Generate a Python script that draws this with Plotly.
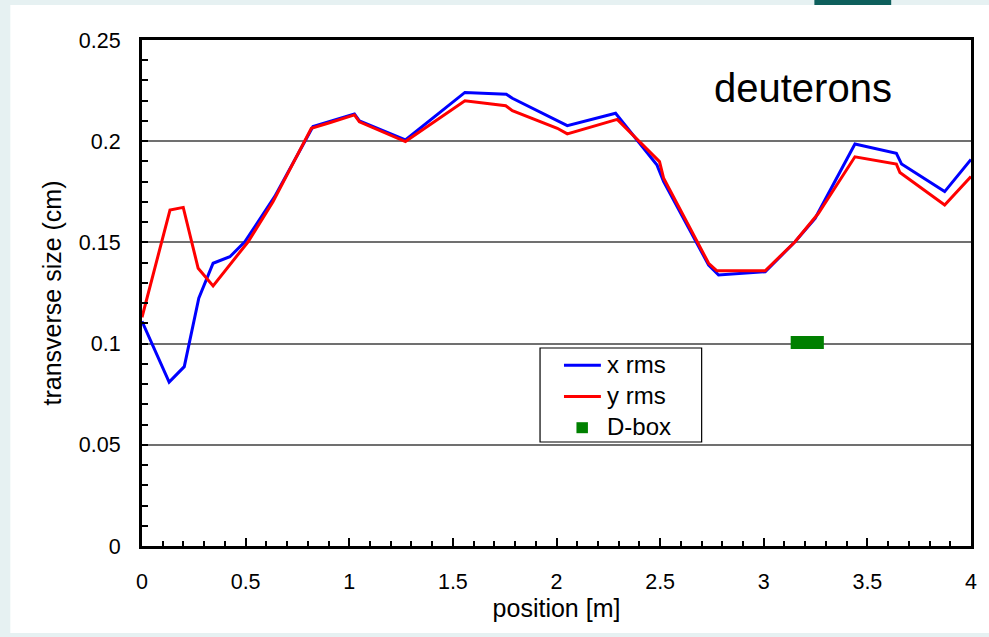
import plotly.graph_objects as go

# ---- data ----
x_blue = [0, 0.131, 0.204, 0.274, 0.343, 0.424, 0.496, 0.640, 0.825, 0.905, 1.025, 1.049,
          1.271, 1.558, 1.619, 1.758, 1.787, 2.052, 2.285, 2.301, 2.485, 2.517, 2.734, 2.782,
          3.007, 3.151, 3.248, 3.440, 3.640, 3.665, 3.873, 4.0]
y_blue = [0.111, 0.081, 0.0886, 0.1224, 0.1397, 0.1429, 0.1503, 0.1726, 0.2072, 0.2096, 0.2134,
          0.210, 0.2006, 0.2241, 0.2238, 0.2232, 0.2212, 0.2077, 0.2138, 0.2118, 0.1882, 0.180,
          0.1388, 0.1339, 0.1355, 0.1503, 0.1619, 0.1986, 0.194, 0.1887, 0.1751, 0.191]

x_red = [0, 0.135, 0.199, 0.271, 0.343, 0.512, 0.632, 0.817, 0.905, 1.025, 1.049, 1.271,
         1.558, 1.755, 1.787, 2.004, 2.052, 2.293, 2.497, 2.517, 2.734, 2.774, 3.007, 3.151,
         3.264, 3.44, 3.64, 3.657, 3.873, 4.0]
y_red = [0.113, 0.166, 0.1673, 0.1372, 0.1285, 0.1503, 0.1701, 0.2064, 0.2091, 0.213, 0.2096,
         0.1998, 0.22, 0.2175, 0.2151, 0.2064, 0.2036, 0.2108, 0.1899, 0.1817, 0.1397, 0.136,
         0.136, 0.1503, 0.1644, 0.1923, 0.1887, 0.1845, 0.1685, 0.1825]

x_dbox = [3.13, 3.29]
y_dbox = [0.1005, 0.1005]

series_names = ["x rms", "y rms", "D-box"]
series_colors = ["#0000ff", "#ff0000", "#008000"]
x_ticks = [0, 0.5, 1, 1.5, 2, 2.5, 3, 3.5, 4]
x_ticklabels = ["0", "0.5", "1", "1.5", "2", "2.5", "3", "3.5", "4"]
y_ticks = [0, 0.05, 0.1, 0.15, 0.2, 0.25]
y_ticklabels = ["0", "0.05", "0.1", "0.15", "0.2", "0.25"]

FONT = "Liberation Sans, Arial, sans-serif"

# plot area in pixels (for paper-coordinate decoration/legend placement)
L, R, T, B = 142, 973, 40, 546
def px(x):
    return (x - L) / (R - L)
def py(y):
    return (B - y) / (B - T)

fig = go.Figure()
fig.add_trace(go.Scatter(x=x_blue, y=y_blue, mode="lines", name=series_names[0], showlegend=False,
                         line=dict(color=series_colors[0], width=3)))
fig.add_trace(go.Scatter(x=x_red, y=y_red, mode="lines", name=series_names[1], showlegend=False,
                         line=dict(color=series_colors[1], width=3)))
fig.add_trace(go.Scatter(x=x_dbox, y=y_dbox, mode="lines", name=series_names[2], showlegend=False,
                         line=dict(color=series_colors[2], width=13)))

fig.add_annotation(x=3.19, y=0.2265, xref="x", yref="y", text="deuterons",
                   showarrow=False, font=dict(family=FONT, size=40, color="black"))

# page decoration
fig.add_shape(type="rect", xref="paper", yref="paper", x0=px(10), x1=px(995), y0=py(633), y1=py(5),
              fillcolor="white", line=dict(width=0), layer="below")
fig.add_shape(type="rect", xref="paper", yref="paper", x0=px(816), x1=px(893),
              y0=py(5), y1=py(-5), fillcolor="#0e5f5c", line=dict(width=0), layer="below")

# legend (drawn manually for compact Excel-like spacing)
LEG_FS = 24
row_gap = 1.3 * LEG_FS
mid = 395.5
row_y = [mid - row_gap, mid, mid + row_gap]
fig.add_shape(type="rect", xref="paper", yref="paper", x0=px(541), x1=px(703), y0=py(442), y1=py(348),
              fillcolor="white", line=dict(color="black", width=1.2), layer="above")
for i in range(2):
    fig.add_shape(type="line", xref="paper", yref="paper", x0=px(565), x1=px(602),
                  y0=py(row_y[i] + 1), y1=py(row_y[i] + 1), line=dict(color=series_colors[i], width=3),
                  layer="above")
fig.add_shape(type="rect", xref="paper", yref="paper", x0=px(577.5), x1=px(589),
              y0=py(row_y[2] + 6.5), y1=py(row_y[2] - 4.5), fillcolor=series_colors[2],
              line=dict(width=0), layer="above")
fig.add_annotation(x=px(606), y=py(mid), xref="paper", yref="paper", text="<br>".join(series_names),
                   showarrow=False, xanchor="left", yanchor="middle", align="left",
                   font=dict(family=FONT, size=LEG_FS, color="black"))

fig.update_layout(
    width=989, height=637,
    margin=dict(l=L, r=989 - R, t=T, b=637 - B),
    paper_bgcolor="#e6f1f2",
    plot_bgcolor="white",
    font=dict(family=FONT, size=21.5, color="black"),
    showlegend=False,
    xaxis=dict(range=[0, 4], tickmode="array", tickvals=x_ticks, ticktext=x_ticklabels,
               showgrid=False, zeroline=False, showline=True, linecolor="black", linewidth=3,
               mirror=True, ticks="inside", ticklen=8, tickwidth=2, tickcolor="black",
               ticklabelstandoff=14,
               minor=dict(ticks="inside", dtick=0.1, ticklen=5, tickwidth=2, tickcolor="black",
                          showgrid=False),
               title=dict(text="position [m]", font=dict(size=25), standoff=2)),
    yaxis=dict(range=[0, 0.25], tickmode="array", tickvals=y_ticks, ticktext=y_ticklabels,
               showgrid=True, gridcolor="#707070", gridwidth=1.5, zeroline=False,
               showline=True, linecolor="black", linewidth=3, mirror=True,
               ticks="inside", ticklen=6, tickwidth=2, tickcolor="black",
               ticklabelstandoff=14,
               minor=dict(ticks="inside", dtick=0.01, ticklen=6, tickwidth=2, tickcolor="black",
                          showgrid=False),
               title=dict(text="transverse size (cm)", font=dict(size=25), standoff=11)),
)

fig.write_html("out.html")
